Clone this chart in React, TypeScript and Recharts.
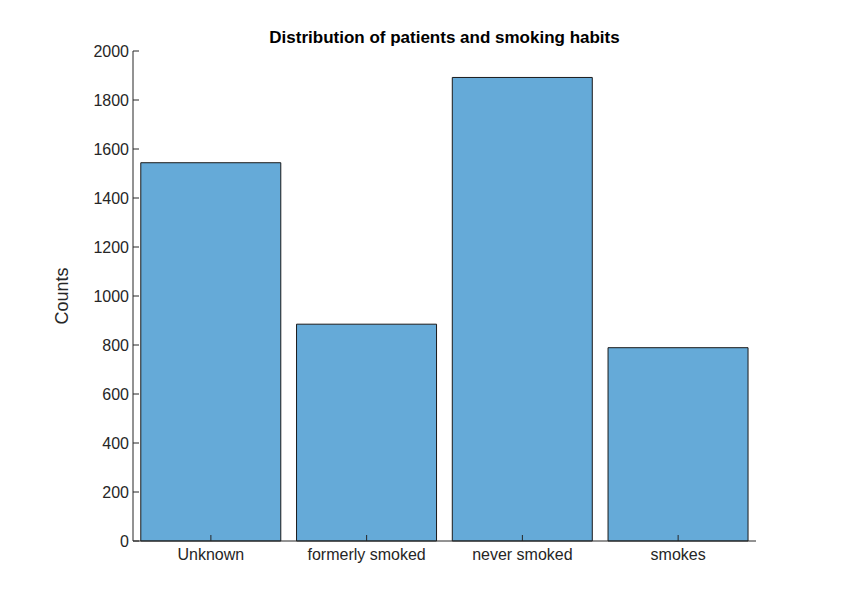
import React from 'react';
import { BarChart, Bar, XAxis, YAxis } from 'recharts';

const categories = ['Unknown', 'formerly smoked', 'never smoked', 'smokes'];
const counts = [1544, 885, 1892, 789];
const yTicks = [0, 200, 400, 600, 800, 1000, 1200, 1400, 1600, 1800, 2000];

const data = categories.map((name, i) => ({ name, value: counts[i] }));

const font = '"Liberation Sans", Arial, sans-serif';

export default function App() {
  return (
    <div style={{ position: 'absolute', left: 0, top: 0, width: 851, height: 592, background: '#fff', fontFamily: font }}>
      <div style={{ position: 'absolute', top: 28, left: 133, width: 623, textAlign: 'center', fontWeight: 'bold', fontSize: 17, color: '#000' }}>
        Distribution of patients and smoking habits
      </div>
      <BarChart width={851} height={592} data={data} margin={{ top: 51, right: 95, bottom: 21, left: 0 }} barCategoryGap="5%">
        <XAxis
          dataKey="name"
          height={30}
          stroke="#262626"
          tick={{ fill: '#262626', fontSize: 16, fontFamily: font }}
          tickSize={-6}
          tickMargin={14}
        />
        <YAxis
          width={133}
          domain={[0, 2000]}
          ticks={yTicks}
          stroke="#262626"
          tick={{ fill: '#262626', fontSize: 16, fontFamily: font }}
          tickSize={-6}
          tickMargin={10}
          label={{ value: 'Counts', angle: -90, position: 'insideLeft', offset: 62, style: { fill: '#262626', fontSize: 18, fontFamily: font, textAnchor: 'middle' } }}
        />
        <Bar dataKey="value" fill="#65aad8" stroke="#1a1a1a" strokeWidth={1} isAnimationActive={false} />
      </BarChart>
    </div>
  );
}
